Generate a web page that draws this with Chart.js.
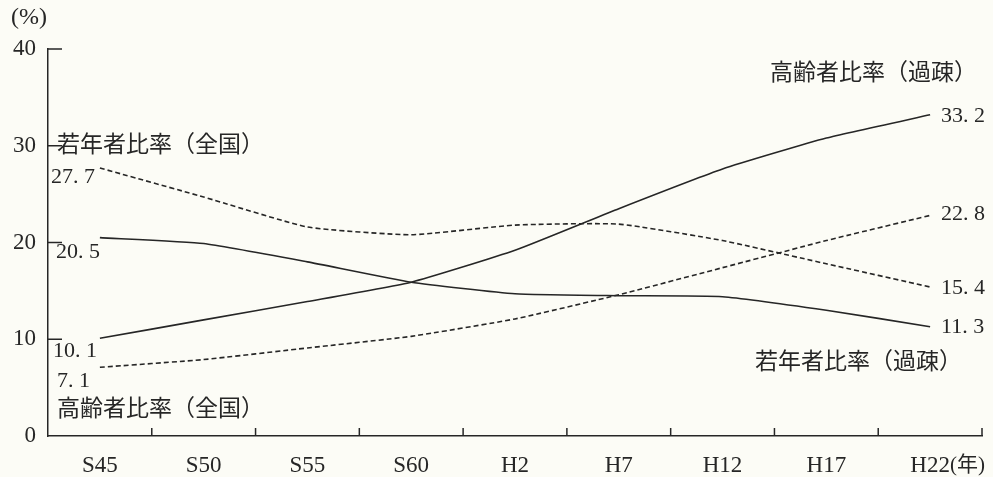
<!DOCTYPE html>
<html>
<head>
<meta charset="utf-8">
<script src="https://cdn.jsdelivr.net/npm/chart.js@4.4.1/dist/chart.umd.min.js"></script>
<style>
  html, body { margin: 0; padding: 0; background: #fcfcf6; }
  #wrap { width: 993px; height: 477px; }
</style>
</head>
<body>
<div id="wrap"><canvas id="chart" width="993" height="477"></canvas></div>
<script>
// Data
const years = ["S45", "S50", "S55", "S60", "H2", "H7", "H12", "H17", "H22"];
const elderlyDepop = [10.1, 12.0, 13.9, 15.9, 19.2, 23.5, 27.6, 30.8, 33.2];
const youthDepop = [20.5, 19.9, 18.0, 15.9, 14.7, 14.5, 14.4, 13.0, 11.3];
const youthNation = [27.7, 24.7, 21.6, 20.8, 21.8, 21.9, 20.2, 17.8, 15.4];
const elderlyNation = [7.1, 7.9, 9.1, 10.3, 12.1, 14.6, 17.4, 20.2, 22.8];
const yTicks = [0, 10, 20, 30, 40];

const INK = "#262626";
const NUM_FONT = '22px "Liberation Serif", "DejaVu Serif", serif';
const JP_FONT = '23px "Liberation Serif", "Noto Sans CJK JP", sans-serif';

function series(label, data, dashed) {
  return {
    label,
    data,
    borderColor: INK,
    borderWidth: 1.6,
    borderDash: dashed ? [5, 3] : [],
    pointRadius: 0,
    tension: 0.15,
    fill: false,
  };
}

// Inward ticks, unit labels and text annotations
const decorations = {
  id: "decorations",
  afterDraw(chart) {
    const { ctx, chartArea } = chart;
    const xs = chart.scales.x;
    const ys = chart.scales.y;
    ctx.save();
    ctx.strokeStyle = INK;
    ctx.lineWidth = 1.5;

    // y ticks pointing into the plot
    [10, 20, 30, 40].forEach((v) => {
      const y = ys.getPixelForValue(v);
      ctx.beginPath();
      ctx.moveTo(chartArea.left, y);
      ctx.lineTo(chartArea.left + 14, y);
      ctx.stroke();
    });

    // x ticks at category boundaries pointing up
    const step = (chartArea.right - chartArea.left) / years.length;
    for (let i = 1; i <= years.length; i++) {
      const x = chartArea.left + step * i;
      ctx.beginPath();
      ctx.moveTo(x, chartArea.bottom);
      ctx.lineTo(x, chartArea.bottom - 8);
      ctx.stroke();
    }

    ctx.fillStyle = INK;
    ctx.textBaseline = "middle";

    // unit labels
    ctx.font = '24px "Liberation Serif", serif';
    ctx.textAlign = "left";
    ctx.fillText("(%)", 11, 18);
    ctx.font = '21px "Liberation Serif", "Noto Sans CJK JP", sans-serif';
    ctx.fillText("(年)", xs.getPixelForValue(8) + 20, 465);

    // start / end values
    const pt = (di, i) => chart.getDatasetMeta(di).data[i];
    ctx.font = NUM_FONT;
    ctx.textAlign = "left";
    ctx.fillText("27. 7", 51, pt(2, 0).y + 9);
    ctx.fillText("20. 5", 56, pt(1, 0).y + 15);
    ctx.fillText("10. 1", 53, pt(0, 0).y + 13);
    ctx.fillText("7. 1", 57, pt(3, 0).y + 14);
    const endX = pt(0, 8).x + 11;
    ctx.fillText("33. 2", endX, pt(0, 8).y + 1);
    ctx.fillText("22. 8", endX, pt(3, 8).y - 1);
    ctx.fillText("15. 4", endX, pt(2, 8).y + 1);
    ctx.fillText("11. 3", endX, pt(1, 8).y + 1);

    // series names
    ctx.font = JP_FONT;
    ctx.fillText("若年者比率（全国）", 57, ys.getPixelForValue(30));
    ctx.fillText("高齢者比率（全国）", 57, ys.getPixelForValue(2.7));
    ctx.textAlign = "right";
    ctx.fillText("高齢者比率（過疎）", 977, ys.getPixelForValue(37.4));
    ctx.fillText("若年者比率（過疎）", 962, ys.getPixelForValue(7.6));
    ctx.restore();
  },
};

new Chart(document.getElementById("chart"), {
  type: "line",
  data: {
    labels: years,
    datasets: [
      series("高齢者比率（過疎）", elderlyDepop, false),
      series("若年者比率（過疎）", youthDepop, false),
      series("若年者比率（全国）", youthNation, true),
      series("高齢者比率（全国）", elderlyNation, true),
    ],
  },
  options: {
    responsive: false,
    animation: false,
    layout: { padding: { top: 49, right: 11, left: 0, bottom: 0 } },
    plugins: { legend: { display: false }, tooltip: { enabled: false } },
    scales: {
      x: {
        offset: true,
        grid: { display: false, drawTicks: false },
        border: { display: true, color: INK, width: 1.5 },
        afterFit: (s) => { s.height = 41; },
        ticks: {
          color: INK,
          padding: 16,
          maxRotation: 0,
          font: { family: '"Liberation Serif", serif', size: 23 },
        },
      },
      y: {
        min: 0,
        max: 40,
        afterFit: (s) => { s.width = 48; },
        afterBuildTicks: (s) => { s.ticks = yTicks.map((v) => ({ value: v })); },
        grid: { display: false, drawTicks: false },
        border: { display: true, color: INK, width: 1.5 },
        ticks: {
          color: INK,
          padding: 12,
          font: { family: '"Liberation Serif", serif', size: 23 },
        },
      },
    },
  },
  plugins: [decorations],
});
</script>
</body>
</html>
